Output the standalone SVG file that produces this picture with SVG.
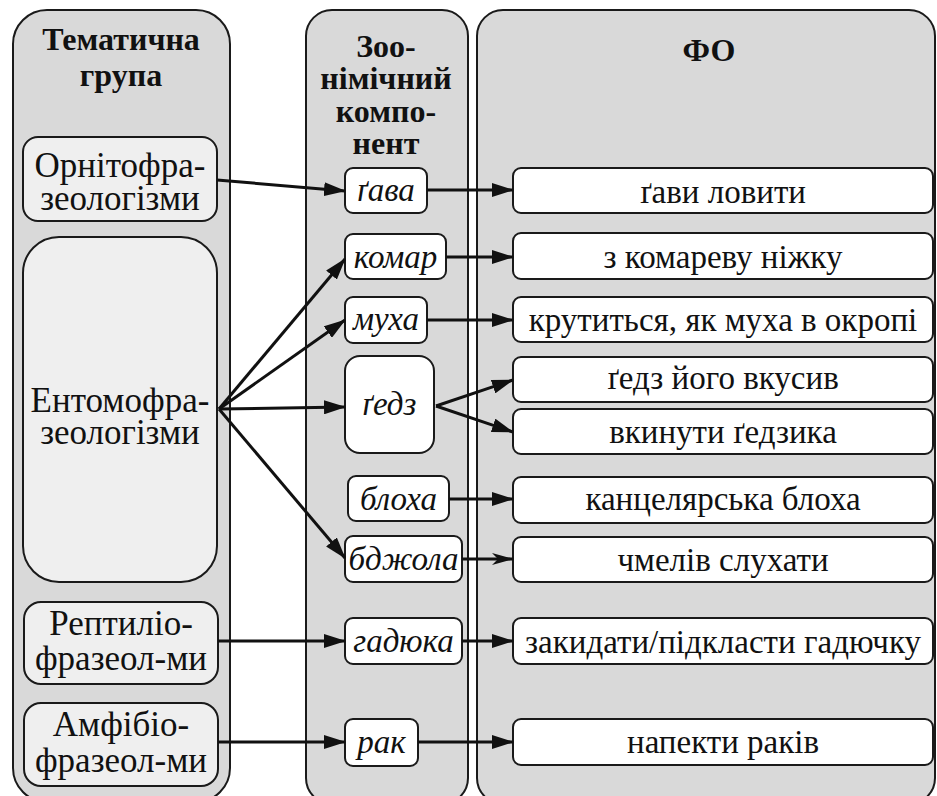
<svg xmlns="http://www.w3.org/2000/svg" width="937" height="796" viewBox="0 0 937 796">
<defs>
<style>
.col{fill:#d9d9d9;stroke:#1a1a1a;stroke-width:2}
.gn{fill:#efefef;stroke:#1a1a1a;stroke-width:2}
.wn{fill:#ffffff;stroke:#1a1a1a;stroke-width:2}
.title{font-family:"Liberation Serif","Times New Roman",serif;font-weight:bold;font-size:32px;fill:#111;text-anchor:middle}
.lt{font-family:"Liberation Serif","Times New Roman",serif;font-size:35px;fill:#111;text-anchor:middle}
.mt{font-family:"Liberation Serif","Times New Roman",serif;font-style:italic;font-size:33px;fill:#111;text-anchor:middle}
.rt{font-family:"Liberation Serif","Times New Roman",serif;font-size:33px;fill:#111;text-anchor:middle}
.ar{fill:none;stroke:#111;stroke-width:3}
</style>
<marker id="ah" markerUnits="userSpaceOnUse" markerWidth="22" markerHeight="14" refX="21" refY="7" orient="auto">
<path d="M0,0 L22,7 L0,14 z" fill="#111"/>
</marker>
<marker id="ah2" markerUnits="userSpaceOnUse" markerWidth="22" markerHeight="14" refX="21" refY="7" orient="auto">
<path d="M0,1 L22,7 L0,13 L6,7 z" fill="#111"/>
</marker>
</defs>
<rect width="937" height="796" fill="#ffffff"/>

<g id="col-theme">
<rect class="col" x="13" y="10" width="217" height="792" rx="34"/>
<text class="title" x="121" y="50">Тематична</text>
<text class="title" x="121" y="86">група</text>
</g>
<g id="col-zoo">
<rect class="col" x="306" y="10" width="162" height="794" rx="26"/>
<text class="title" x="386" y="57">Зоо-</text>
<text class="title" x="386" y="89">німічний</text>
<text class="title" x="386" y="122">компо-</text>
<text class="title" x="386" y="154">нент</text>
</g>
<g id="col-fo">
<rect class="col" x="477" y="10" width="458" height="794" rx="26"/>
<text class="title" x="709" y="61">ФО</text>
</g>

<g id="n-orn"><rect class="gn" x="23" y="137" width="194" height="84" rx="15"/>
<text class="lt" x="120" y="177">Орнітофра-</text><text class="lt" x="120" y="210">зеологізми</text></g>
<g id="n-ent"><rect class="gn" x="23" y="237" width="194" height="345" rx="36"/>
<text class="lt" x="120" y="412">Ентомофра-</text><text class="lt" x="120" y="444">зеологізми</text></g>
<g id="n-rep"><rect class="gn" x="24" y="602" width="194" height="82" rx="17"/>
<text class="lt" x="121" y="635">Рептиліо-</text><text class="lt" x="121" y="670">фразеол-ми</text></g>
<g id="n-amf"><rect class="gn" x="24" y="703" width="194" height="83" rx="17"/>
<text class="lt" x="121" y="736">Амфібіо-</text><text class="lt" x="121" y="772">фразеол-ми</text></g>

<g id="z-gava"><rect class="wn" x="345" y="168" width="82" height="45" rx="8"/><text class="mt" x="386" y="201">ґава</text></g>
<g id="z-komar"><rect class="wn" x="345" y="234" width="101" height="45" rx="8"/><text class="mt" x="395.5" y="268">комар</text></g>
<g id="z-mukha"><rect class="wn" x="345" y="297" width="82" height="46" rx="8"/><text class="mt" x="386" y="330">муха</text></g>
<g id="z-gedz"><rect class="wn" x="345" y="356" width="89" height="97" rx="15"/><text class="mt" x="389.5" y="415">ґедз</text></g>
<g id="z-blokha"><rect class="wn" x="348" y="476" width="101" height="45" rx="8"/><text class="mt" x="398.5" y="510">блоха</text></g>
<g id="z-bdzhola"><rect class="wn" x="345" y="536" width="117" height="46" rx="8"/><text class="mt" x="403.5" y="570">бджола</text></g>
<g id="z-hadiuka"><rect class="wn" x="345" y="618" width="117" height="46" rx="8"/><text class="mt" x="403.5" y="652">гадюка</text></g>
<g id="z-rak"><rect class="wn" x="345" y="719" width="73" height="47" rx="8"/><text class="mt" x="381.5" y="753">рак</text></g>

<g id="f1"><rect class="wn" x="513" y="168" width="420" height="45" rx="8"/><text class="rt" x="723" y="203">ґави ловити</text></g>
<g id="f2"><rect class="wn" x="513" y="233" width="420" height="46" rx="8"/><text class="rt" x="723" y="268">з комареву ніжку</text></g>
<g id="f3"><rect class="wn" x="513" y="297" width="420" height="45" rx="8"/><text class="rt" x="723" y="331">крутиться, як муха в окропі</text></g>
<g id="f4"><rect class="wn" x="513" y="357" width="420" height="45" rx="8"/><text class="rt" x="723" y="389">ґедз його вкусив</text></g>
<g id="f5"><rect class="wn" x="513" y="409" width="420" height="45" rx="8"/><text class="rt" x="723" y="443">вкинути ґедзика</text></g>
<g id="f6"><rect class="wn" x="513" y="477" width="420" height="46" rx="8"/><text class="rt" x="723" y="510">канцелярська блоха</text></g>
<g id="f7"><rect class="wn" x="513" y="537" width="420" height="45" rx="8"/><text class="rt" x="723" y="571">чмелів слухати</text></g>
<g id="f8"><rect class="wn" x="513" y="618" width="420" height="46" rx="8"/><text class="rt" x="723" y="653">закидати/підкласти гадючку</text></g>
<g id="f9"><rect class="wn" x="513" y="719" width="420" height="46" rx="8"/><text class="rt" x="723" y="753">напекти раків</text></g>

<g id="connectors">
<line class="ar" x1="217" y1="180" x2="345" y2="191" marker-end="url(#ah)"/>
<line class="ar" x1="219" y1="409" x2="345" y2="259" marker-end="url(#ah)"/>
<line class="ar" x1="219" y1="409" x2="345" y2="320" marker-end="url(#ah)"/>
<line class="ar" x1="219" y1="409" x2="345" y2="407" marker-end="url(#ah)"/>
<line class="ar" x1="219" y1="409" x2="345" y2="558" marker-end="url(#ah)"/>
<line class="ar" x1="218" y1="641" x2="345" y2="641" marker-end="url(#ah)"/>
<line class="ar" x1="218" y1="742" x2="345" y2="742" marker-end="url(#ah)"/>
<line class="ar" x1="427" y1="190" x2="513" y2="190" marker-end="url(#ah)"/>
<line class="ar" x1="446" y1="257" x2="513" y2="257" marker-end="url(#ah)"/>
<line class="ar" x1="427" y1="320" x2="513" y2="320" marker-end="url(#ah)"/>
<line class="ar" x1="436" y1="406" x2="513" y2="380" marker-end="url(#ah)"/>
<line class="ar" x1="436" y1="406" x2="513" y2="432" marker-end="url(#ah)"/>
<line class="ar" x1="449" y1="499" x2="513" y2="499" marker-end="url(#ah)"/>
<line class="ar" x1="462" y1="559" x2="513" y2="559" marker-end="url(#ah2)"/>
<line class="ar" x1="462" y1="641" x2="513" y2="641" marker-end="url(#ah)"/>
<line class="ar" x1="418" y1="742" x2="513" y2="742" marker-end="url(#ah)"/>
</g>
</svg>
